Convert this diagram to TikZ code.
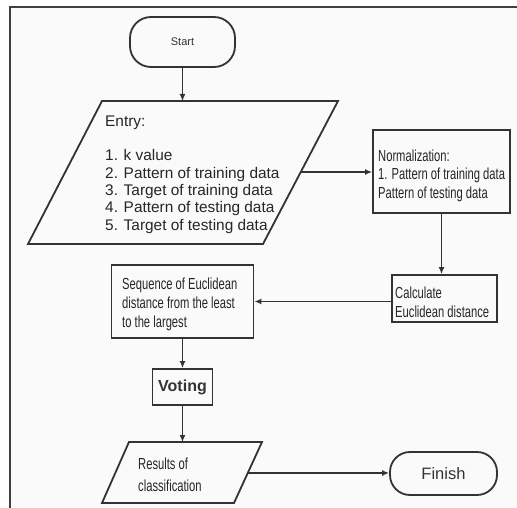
\documentclass[tikz,border=0pt]{standalone}
\usepackage{fontspec}
\setmainfont{Liberation Sans}
\newfontfamily\narrowfont[FakeStretch=0.7]{Liberation Sans}
\usetikzlibrary{arrows.meta}
\newcommand\listfont{\fontsize{15.4}{17.3}\selectfont}
\newcommand\boxfont{\narrowfont\fontsize{16}{19}\selectfont}
\tikzset{
  box/.style={draw=black!80, line width=1.8pt, shape=rectangle, inner sep=0pt, text=black!80},
  term/.style={box, rounded corners=21pt},
  shapeline/.style={draw=black!80, line width=1.8pt},
  txt/.style={inner sep=0pt, anchor=base west, align=left, text=black!85},
  flow/.style={draw=black!80, line width=1.8pt, -{Latex[length=7pt,width=6pt]}}
}
\begin{document}
\begin{tikzpicture}[x=1pt,y=-1pt]
  \useasboundingbox (0,0) rectangle (517,508);
  \fill[black!2] (10,7) rectangle (517,508);
  \draw[black!75, line width=1.8pt] (517,7) -- (10,7) -- (10,508);

  % terminals and boxes
  \node[term, minimum width=105pt, minimum height=50pt, font=\fontsize{11}{13}\selectfont] (start) at (182.5,42) {Start};
  \node[box, minimum width=137pt, minimum height=83pt] (norm) at (441.5,171.5) {};
  \node[box, minimum width=105pt, minimum height=47pt] (calc) at (444.5,298.5) {};
  \node[box, minimum width=142pt, minimum height=73pt] (seq) at (182.5,301.5) {};
  \node[box, minimum width=60pt, minimum height=36pt, font=\bfseries\fontsize{16}{19}\selectfont] (vote) at (182.5,387) {Voting};
  \node[term, rounded corners=20pt, minimum width=107pt, minimum height=43pt, font=\fontsize{16.5}{19}\selectfont] (finish) at (443.5,473.5) {Finish};

  % input / output
  \draw[shapeline] (102,101) -- (338,101) -- (263,244) -- (28,244) -- cycle;
  \coordinate (entryin) at (182.5,101);
  \coordinate (entryout) at (301,172);
  \draw[shapeline] (129,442) -- (262,442) -- (234,503) -- (102,503) -- cycle;
  \coordinate (resin) at (182.5,442);
  \coordinate (resout) at (248,473);

  % texts (placed at the baseline of the last line)
  \node[txt, font=\listfont] (entrytext) at (105,230)
    {Entry:\\[17.3pt]1. k value\\2. Pattern of training data\\3. Target of training data\\4. Pattern of testing data\\5. Target of testing data};
  \node[txt, font=\boxfont] (normtext) at (378,199)
    {Normalization:\\1. Pattern of training data\\Pattern of testing data};
  \node[txt, font=\boxfont] (calctext) at (395,317)
    {Calculate\\Euclidean distance};
  \node[txt, font=\boxfont] (seqtext) at (122,327)
    {Sequence of Euclidean\\distance from the least\\to the largest};
  \node[txt, font=\narrowfont\fontsize{16}{22}\selectfont] (restext) at (138,491)
    {Results of\\classification};

  \begin{scope}[flow]
    \draw (start) -- (entryin);
    \draw (entryout) -- (entryout -| norm.west);
    \draw (norm.south) -- (norm.south |- calc.north);
    \draw (calc.west |- seq.east) -- (seq.east);
    \draw (seq) -- (vote);
    \draw (vote) -- (resin);
    \draw (resout) -- (resout -| finish.west);
  \end{scope}
\end{tikzpicture}
\end{document}
